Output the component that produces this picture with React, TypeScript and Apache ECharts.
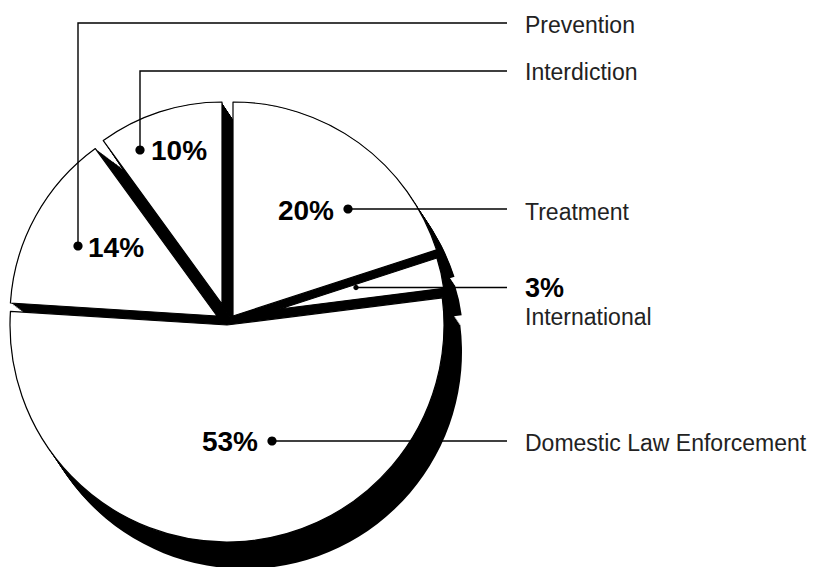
import React, { useEffect, useRef } from 'react';
import * as echarts from 'echarts';

// ---- data ----
const categories = ['Treatment', 'International', 'Domestic Law Enforcement', 'Prevention', 'Interdiction'];
const shares = [20, 3, 53, 14, 10];

// ---- layout (positions / sizes, not data) ----
const OX = -8;
const OY = -8;
const faceCenters: [number, number][] = [
  [233, 316],
  [280, 309],
  [227, 325],
  [217, 316],
  [222, 304],
];
const faceRadii = [214, 165, 217, 207, 202];
const extrudes: [number, number][] = [
  [18, 27],
  [18, 27],
  [18, 27],
  [27, 20],
  [18, 27],
];
const STEPS = 18;
const NAME_X = 525;
const LINE_END_X = 507;

type Annot = {
  leader: number[][];
  dotR: number;
  pct: { x: number; y: number; align: 'left' | 'right'; size: number };
  nameY: number;
};
const annots: Annot[] = [
  { leader: [[348, 209], [LINE_END_X, 209]], dotR: 4.6, pct: { x: 334, y: 210, align: 'right', size: 28 }, nameY: 211.5 },
  { leader: [[356, 287.5], [LINE_END_X, 287.5]], dotR: 2.7, pct: { x: NAME_X, y: 288, align: 'left', size: 27 }, nameY: 316.5 },
  { leader: [[272, 441], [LINE_END_X, 441]], dotR: 4.6, pct: { x: 258, y: 441, align: 'right', size: 28 }, nameY: 443 },
  { leader: [[78, 246], [78, 23], [LINE_END_X, 23]], dotR: 4.6, pct: { x: 88, y: 247.5, align: 'left', size: 28 }, nameY: 24.5 },
  { leader: [[140, 150], [140, 71], [LINE_END_X, 71]], dotR: 4.6, pct: { x: 151, y: 150.5, align: 'left', size: 28 }, nameY: 72 },
];

const FONT = '"Liberation Sans", Arial, Helvetica, sans-serif';

function sliceSeries(idx: number, cx: number, cy: number, r: number, fill: string, bordered: boolean, z: number, id: string) {
  return {
    type: 'pie',
    id,
    z,
    silent: true,
    animation: false,
    center: [cx + OX, cy + OY],
    radius: [0, r],
    startAngle: 90,
    clockwise: true,
    avoidLabelOverlap: false,
    label: { show: false },
    labelLine: { show: false },
    emphasis: { disabled: true },
    data: categories.map((name, i) => ({
      name,
      value: shares[i],
      itemStyle:
        i === idx
          ? { color: fill, borderColor: bordered ? '#000' : fill, borderWidth: bordered ? 1.2 : 0, opacity: 1 }
          : { color: 'rgba(0,0,0,0)', borderWidth: 0, opacity: 0 },
    })),
  };
}

export default function App() {
  const ref = useRef<HTMLDivElement>(null);
  useEffect(() => {
    if (!ref.current) return;
    const chart = echarts.init(ref.current, undefined, { renderer: 'svg' });

    const series: any[] = [];
    categories.forEach((_, i) => {
      const [cx, cy] = faceCenters[i];
      const [ex, ey] = extrudes[i];
      for (let s = 0; s <= STEPS; s++) {
        const t = s / STEPS;
        series.push(sliceSeries(i, cx + ex * t, cy + ey * t, faceRadii[i], '#000', false, 1, `ex-${i}-${s}`));
      }
    });
    categories.forEach((_, i) => {
      const [cx, cy] = faceCenters[i];
      series.push(sliceSeries(i, cx, cy, faceRadii[i], '#fff', true, 2, `face-${i}`));
    });

    const graphic: any[] = [];
    annots.forEach((a, i) => {
      graphic.push({
        type: 'polyline',
        z: 100,
        silent: true,
        shape: { points: a.leader.map(([x, y]) => [x + OX, y + OY]) },
        style: { stroke: '#000', lineWidth: 1.4, fill: 'none' },
      });
      graphic.push({
        type: 'circle',
        z: 101,
        silent: true,
        shape: { cx: a.leader[0][0] + OX, cy: a.leader[0][1] + OY, r: a.dotR },
        style: { fill: '#000' },
      });
      graphic.push({
        type: 'text',
        z: 101,
        silent: true,
        x: a.pct.x + OX,
        y: a.pct.y + OY,
        style: {
          text: `${shares[i]}%`,
          font: `bold ${a.pct.size}px ${FONT}`,
          fill: '#000',
          align: a.pct.align,
          verticalAlign: 'middle',
          textAlign: a.pct.align,
          textVerticalAlign: 'middle',
        },
      });
      graphic.push({
        type: 'text',
        z: 101,
        silent: true,
        x: NAME_X + OX,
        y: a.nameY + OY,
        style: {
          text: categories[i],
          font: `23px ${FONT}`,
          fill: '#222222',
          align: 'left',
          verticalAlign: 'middle',
          textAlign: 'left',
          textVerticalAlign: 'middle',
        },
      });
    });

    chart.setOption({
      animation: false,
      backgroundColor: '#ffffff',
      tooltip: { show: false },
      series,
      graphic,
    });
    return () => chart.dispose();
  }, []);
  return <div ref={ref} style={{ position: 'fixed', left: 0, top: 0, width: 822, height: 567 }} />;
}
